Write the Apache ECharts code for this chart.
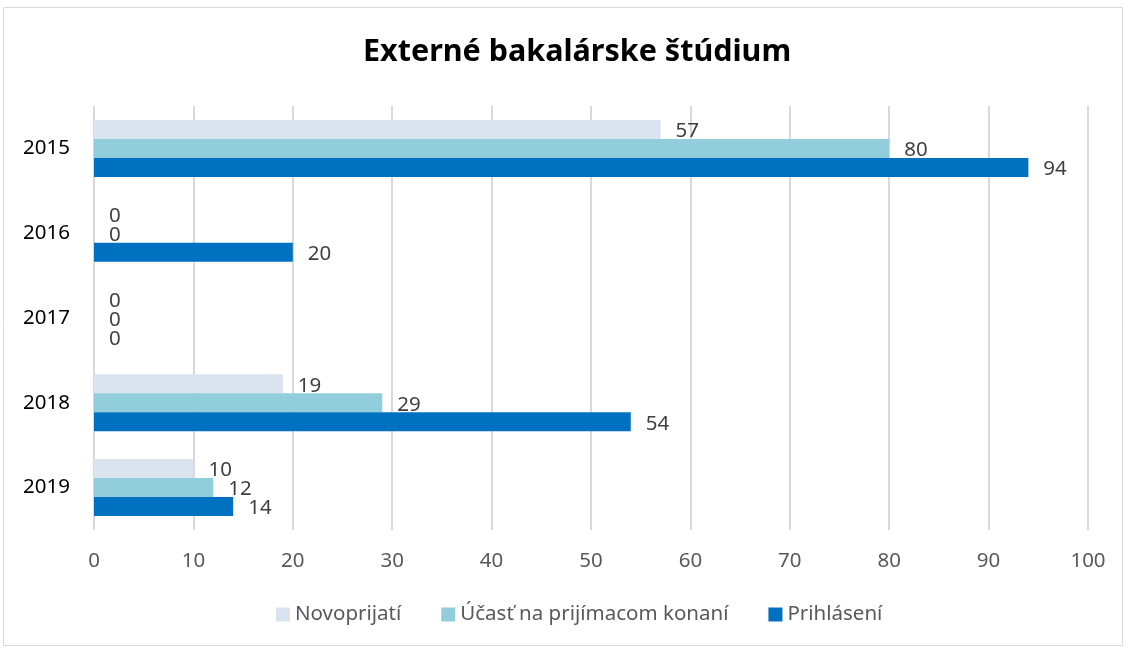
<!DOCTYPE html>
<html><head><meta charset="utf-8">
<script src="https://cdn.jsdelivr.net/npm/echarts@6/dist/echarts.min.js"></script>
<style>html,body{margin:0;padding:0;background:#fff}#c{width:1130px;height:648px}</style>
</head><body><div id="c"></div>
<script>
const categories = ['2015', '2016', '2017', '2018', '2019'];
const seriesNames = ['Novoprijatí', 'Účasť na prijímacom konaní', 'Prihlásení'];
const novoprijati = [57, 0, 0, 19, 10];
const ucast = [80, 0, 0, 29, 12];
const prihlaseni = [94, 20, 0, 54, 14];
const colors = ['#dae3f0', '#92cddc', '#0070c0'];
const FONT = 'Noto Sans';

const chart = echarts.init(document.getElementById('c'), null, {renderer: 'canvas'});
function mk(name, data, color) {
  return {
    name, type: 'bar', data, barWidth: 19, barGap: '0%',
    itemStyle: {color},
    label: {show: true, position: 'right', distance: 15, offset: [0, 2], color: '#404040', fontSize: 20.5, fontFamily: FONT}
  };
}
chart.setOption({
  animation: false,
  textStyle: {fontFamily: FONT},
  graphic: [{type: 'rect', shape: {x: 3.5, y: 7.5, width: 1119, height: 638}, style: {fill: 'none', stroke: '#d9d9d9', lineWidth: 1}, silent: true}],
  title: {text: 'Externé bakalárske štúdium', left: 358, top: 32,
    textStyle: {fontFamily: FONT, fontWeight: 'bold', fontSize: 30.5, color: '#000'}},
  legend: {data: seriesNames, left: 271, top: 599, icon: 'rect', itemWidth: 14, itemHeight: 14, itemGap: 40,
    textStyle: {fontFamily: FONT, fontSize: 20.5, color: '#595959'}},
  grid: {left: 94, right: 42, top: 106, bottom: 118, containLabel: false},
  xAxis: {type: 'value', min: 0, max: 100, interval: 10,
    axisLine: {show: false}, axisTick: {show: false},
    axisLabel: {fontSize: 20.5, color: '#595959', margin: 21, fontFamily: FONT},
    splitLine: {lineStyle: {color: '#d9d9d9', width: 2}}},
  yAxis: {type: 'category', data: categories, inverse: true,
    axisLine: {show: false}, axisTick: {show: false},
    axisLabel: {fontSize: 20.5, color: '#000', margin: 24, fontFamily: FONT}},
  series: [mk(seriesNames[0], novoprijati, colors[0]), mk(seriesNames[1], ucast, colors[1]), mk(seriesNames[2], prihlaseni, colors[2])]
});
</script></body></html>
